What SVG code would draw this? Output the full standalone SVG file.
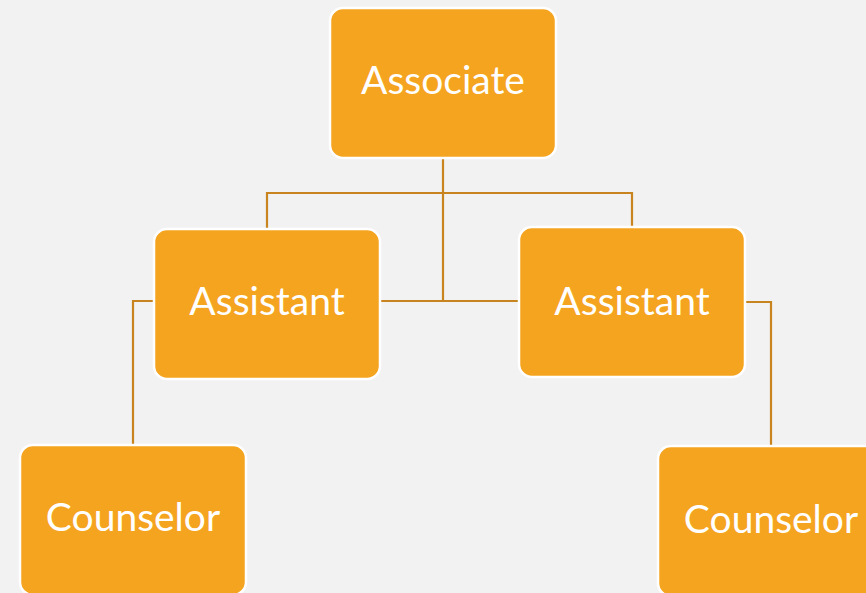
<svg xmlns="http://www.w3.org/2000/svg" width="866" height="593" viewBox="0 0 866 593">
<style>
.box{fill:#F5A41F;stroke:#FFFFFF;stroke-width:2.5}
.lbl{fill:#FFFFFF;font-family:Lato,"Open Sans","Liberation Sans",sans-serif;font-size:39px;text-anchor:middle}
.con{fill:none;stroke:#C8841E;stroke-width:2.2}
</style>
<rect x="0" y="0" width="866" height="593" fill="#F2F2F2"/>
<g id="connectors">
<path class="con" d="M443,158 V301"/>
<path class="con" d="M267,229 V193 H632 V227"/>
<path class="con" d="M380,301 H519"/>
<path class="con" d="M154,301 H133 V445"/>
<path class="con" d="M745,302 H771 V446"/>
</g>
<g id="associate">
<rect class="box" x="330" y="8" width="226" height="150" rx="13"/>
<text class="lbl" x="443" y="94">Associate</text>
</g>
<g id="assistant-left">
<rect class="box" x="154" y="229" width="226" height="150" rx="13"/>
<text class="lbl" x="267" y="315">Assistant</text>
</g>
<g id="assistant-right">
<rect class="box" x="519" y="227" width="226" height="150" rx="13"/>
<text class="lbl" x="632" y="315">Assistant</text>
</g>
<g id="counselor-left">
<rect class="box" x="20" y="445" width="226" height="150" rx="13"/>
<text class="lbl" x="133" y="531">Counselor</text>
</g>
<g id="counselor-right">
<rect class="box" x="658" y="446" width="226" height="150" rx="13"/>
<text class="lbl" x="771" y="533">Counselor</text>
</g>
</svg>
